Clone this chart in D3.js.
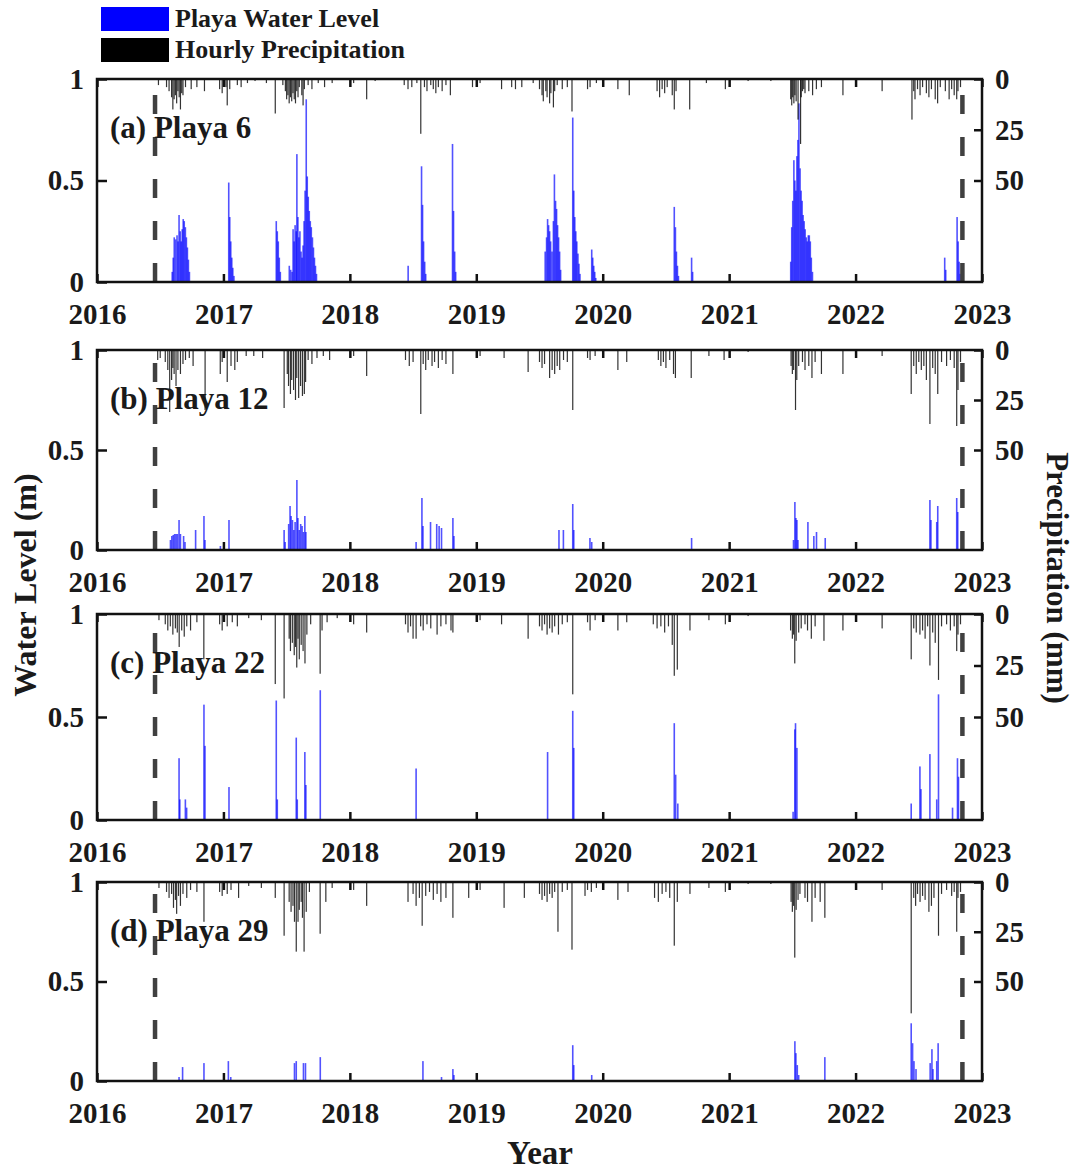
<!DOCTYPE html>
<html><head><meta charset="utf-8">
<script src="https://cdn.jsdelivr.net/npm/d3@7"></script>
<style>
body{margin:0;background:#fff}
text{font-family:"Liberation Serif","Times New Roman",serif;font-weight:bold;fill:#1a1a1a}
</style>
</head><body><svg id="c" width="1078" height="1171"></svg>
<script>
// ---------------- DATA ----------------
const years = [2016, 2017, 2018, 2019, 2020, 2021, 2022, 2023];
const levelTicks = [0, 0.5, 1];
const levelTickLabels = ["0", "0.5", "1"];
const precipTicks = [0, 25, 50];
const panelLabels = ["(a) Playa 6", "(b) Playa 12", "(c) Playa 22", "(d) Playa 29"];
const legendLabels = ["Playa Water Level", "Hourly Precipitation"];
const studyPeriod = [2016.459, 2022.845];

// water level (m): [decimal year, level]
const wl6 = [
[2016.595,0.05],[2016.603,0.12],[2016.611,0.22],[2016.622,0.21],[2016.633,0.23],[2016.641,0.2],[2016.649,0.33],[2016.658,0.25],[2016.666,0.2],[2016.674,0.26],[2016.682,0.31],[2016.690,0.3],[2016.699,0.27],[2016.707,0.22],[2016.715,0.17],[2016.723,0.11],[2016.731,0.05],
[2017.042,0.49],[2017.050,0.32],[2017.058,0.2],[2017.066,0.12],[2017.074,0.07],[2017.083,0.03],
[2017.418,0.30],[2017.426,0.25],[2017.434,0.2],[2017.442,0.12],[2017.450,0.05],
[2017.521,0.08],[2017.532,0.06],[2017.543,0.05],[2017.551,0.26],[2017.559,0.2],[2017.567,0.28],[2017.576,0.25],[2017.581,0.63],[2017.589,0.32],[2017.597,0.22],[2017.605,0.25],[2017.614,0.15],[2017.622,0.12],[2017.630,0.18],[2017.638,0.3],[2017.646,0.45],[2017.655,0.9],[2017.663,0.52],[2017.671,0.42],[2017.679,0.35],[2017.687,0.3],[2017.695,0.27],[2017.704,0.22],[2017.712,0.17],[2017.720,0.12],[2017.728,0.08],[2017.736,0.04],
[2018.461,0.08],
[2018.567,0.57],[2018.575,0.38],[2018.583,0.2],[2018.592,0.1],[2018.600,0.04],
[2018.812,0.68],[2018.820,0.35],[2018.829,0.15],[2018.837,0.05],
[2019.545,0.15],[2019.556,0.22],[2019.564,0.31],[2019.572,0.28],[2019.580,0.25],[2019.588,0.2],[2019.599,0.15],[2019.610,0.3],[2019.618,0.53],[2019.627,0.4],[2019.635,0.36],[2019.643,0.28],[2019.651,0.22],[2019.659,0.15],[2019.667,0.06],
[2019.763,0.81],[2019.771,0.45],[2019.779,0.32],[2019.787,0.25],[2019.795,0.2],[2019.804,0.14],[2019.812,0.09],[2019.820,0.04],
[2019.913,0.16],[2019.921,0.12],[2019.929,0.08],[2019.937,0.05],[2019.945,0.02],
[2020.566,0.37],[2020.575,0.27],[2020.583,0.15],[2020.591,0.08],[2020.599,0.03],
[2020.703,0.12],[2020.711,0.05],
[2021.487,0.1],[2021.495,0.27],[2021.503,0.4],[2021.512,0.6],[2021.520,0.5],[2021.528,0.45],[2021.536,0.62],[2021.544,0.7],[2021.552,0.88],[2021.561,0.56],[2021.569,0.45],[2021.577,0.4],[2021.585,0.33],[2021.593,0.3],[2021.601,0.26],[2021.610,0.22],[2021.618,0.2],[2021.626,0.23],[2021.634,0.23],[2021.642,0.2],[2021.650,0.12],[2021.659,0.05],
[2022.705,0.12],[2022.713,0.06],
[2022.803,0.32],[2022.811,0.2],[2022.819,0.1],[2022.827,0.04]
];
const wl12 = [
[2016.581,0.05],[2016.592,0.07],[2016.603,0.075],[2016.614,0.08],[2016.625,0.08],[2016.636,0.08],[2016.649,0.15],[2016.660,0.08],[2016.685,0.07],[2016.696,0.04],
[2016.780,0.1],[2016.846,0.17],[2016.854,0.05],[2016.976,0.02],[2017.044,0.15],
[2017.480,0.1],[2017.488,0.04],
[2017.516,0.13],[2017.527,0.22],[2017.535,0.17],[2017.546,0.15],[2017.557,0.1],[2017.567,0.14],[2017.581,0.35],[2017.589,0.16],[2017.600,0.1],[2017.611,0.13],[2017.622,0.12],[2017.633,0.09],[2017.644,0.17],[2017.652,0.09],
[2018.524,0.04],[2018.570,0.26],[2018.578,0.12],[2018.638,0.14],[2018.687,0.13],[2018.706,0.12],[2018.725,0.11],[2018.815,0.16],[2018.823,0.07],
[2019.654,0.1],[2019.689,0.1],[2019.763,0.23],[2019.771,0.1],[2019.899,0.06],[2019.913,0.04],
[2020.703,0.06],
[2021.509,0.05],[2021.520,0.24],[2021.528,0.16],[2021.536,0.15],[2021.544,0.05],[2021.623,0.14],[2021.670,0.07],[2021.691,0.09],[2021.760,0.06],
[2022.588,0.25],[2022.596,0.15],[2022.642,0.14],[2022.650,0.22],[2022.800,0.26],[2022.808,0.19]
];
const wl22 = [
[2016.649,0.3],[2016.655,0.1],[2016.699,0.1],[2016.709,0.06],
[2016.846,0.56],[2016.854,0.36],[2017.044,0.16],
[2017.418,0.58],[2017.426,0.1],[2017.576,0.4],[2017.584,0.1],[2017.644,0.33],[2017.652,0.17],[2017.766,0.63],
[2018.524,0.25],
[2019.564,0.33],[2019.763,0.53],[2019.771,0.35],
[2020.566,0.47],[2020.577,0.22],[2020.594,0.08],
[2021.506,0.04],[2021.520,0.44],[2021.525,0.47],[2021.536,0.35],
[2022.440,0.08],[2022.509,0.26],[2022.517,0.15],[2022.588,0.32],[2022.642,0.1],[2022.656,0.61],[2022.767,0.06],[2022.806,0.3],[2022.814,0.21]
];
const wl29 = [
[2016.649,0.02],[2016.677,0.07],[2016.846,0.09],[2017.039,0.1],[2017.058,0.02],
[2017.562,0.09],[2017.576,0.1],[2017.633,0.09],[2017.649,0.09],[2017.766,0.12],
[2018.578,0.1],[2018.725,0.02],[2018.815,0.06],[2018.823,0.03],
[2019.763,0.18],[2019.771,0.08],[2019.913,0.03],
[2021.520,0.2],[2021.528,0.14],[2021.539,0.08],[2021.550,0.03],[2021.757,0.12],
[2022.440,0.29],[2022.451,0.19],[2022.462,0.1],[2022.478,0.06],
[2022.590,0.09],[2022.604,0.16],[2022.612,0.06],[2022.642,0.1],[2022.653,0.19]
];

// hourly precipitation (mm): [decimal year, mm]
const pr6 = [
[2016.486,3],[2016.55,4],[2016.57,6],[2016.59,9],[2016.60,15],[2016.61,10],[2016.62,8],[2016.63,12],[2016.64,6],[2016.65,9],[2016.66,15],[2016.67,7],[2016.68,8],[2016.70,4],[2016.745,5],[2016.79,4],[2016.85,6],
[2016.97,5],[2016.99,7],[2017.02,4],[2017.03,13],[2017.05,5],[2017.11,3],[2017.14,4],[2017.19,2],[2017.25,1],[2017.34,2],
[2017.41,17],[2017.47,3],[2017.49,6],[2017.50,10],[2017.51,8],[2017.52,12],[2017.53,9],[2017.54,11],[2017.55,7],[2017.56,10],[2017.57,12],[2017.58,6],[2017.59,9],[2017.60,4],[2017.62,8],[2017.63,13],[2017.64,5],
[2017.67,3],[2017.70,5],[2017.75,2],[2017.80,4],[2017.86,2],[2018.03,2],[2018.133,10],[2018.2,1],
[2018.43,3],[2018.46,5],[2018.49,4],[2018.53,2],[2018.561,27],[2018.59,4],[2018.61,6],[2018.64,3],[2018.66,5],[2018.68,7],[2018.70,4],[2018.73,6],[2018.76,3],[2018.795,8],
[2018.97,4],[2019.03,2],[2019.2,5],[2019.28,4],[2019.31,5],[2019.36,4],[2019.45,2],
[2019.50,5],[2019.52,8],[2019.53,11],[2019.55,6],[2019.56,9],[2019.58,12],[2019.59,7],[2019.61,14],[2019.62,6],[2019.64,3],[2019.68,5],[2019.72,4],[2019.757,16],
[2019.88,5],[2019.90,4],[2019.95,2],[2020.12,5],[2020.21,8],
[2020.43,6],[2020.45,9],[2020.47,5],[2020.49,7],[2020.51,4],[2020.55,8],[2020.566,15],[2020.58,6],[2020.688,15],
[2020.82,2],[2020.97,5],[2021.15,1],[2021.33,1],
[2021.487,10],[2021.495,13],[2021.503,9],[2021.512,12],[2021.52,8],[2021.53,11],[2021.545,20],[2021.565,32],[2021.57,9],[2021.58,6],[2021.59,5],[2021.60,7],[2021.63,6],[2021.66,8],[2021.69,5],[2021.73,4],
[2021.90,8],[2022.21,6],
[2022.446,20],[2022.46,6],[2022.47,10],[2022.49,5],[2022.51,8],[2022.53,4],[2022.56,7],[2022.58,9],[2022.60,5],[2022.63,10],[2022.649,12],[2022.67,4],[2022.71,6],[2022.74,10],[2022.76,5],[2022.78,8],[2022.80,10],[2022.81,6],[2022.83,4]
];
const pr12 = [
[2016.48,5],[2016.50,4],[2016.54,6],[2016.56,10],[2016.575,31],[2016.59,15],[2016.60,9],[2016.61,12],[2016.625,18],[2016.64,10],[2016.66,12],[2016.68,7],[2016.70,5],[2016.73,4],[2016.76,8],[2016.855,30],
[2016.975,12],[2016.99,6],[2017.03,16],[2017.06,8],[2017.09,10],[2017.11,6],[2017.18,3],[2017.24,3],[2017.31,4],
[2017.48,29],[2017.505,12],[2017.515,18],[2017.53,22],[2017.54,15],[2017.555,20],[2017.57,25],[2017.58,14],[2017.595,24],[2017.61,18],[2017.625,23],[2017.64,22],[2017.65,16],[2017.67,5],[2017.70,7],[2017.74,4],[2017.79,3],[2017.84,5],
[2018.03,3],[2018.133,13],
[2018.44,5],[2018.47,8],[2018.50,6],[2018.561,32],[2018.58,7],[2018.60,10],[2018.62,5],[2018.65,8],[2018.67,6],[2018.70,9],[2018.73,5],[2018.76,7],[2018.815,12],
[2019.03,3],[2019.22,4],[2019.41,11],
[2019.50,6],[2019.52,9],[2019.54,7],[2019.58,14],[2019.60,10],[2019.62,12],[2019.64,8],[2019.66,10],[2019.69,5],[2019.72,6],[2019.763,30],
[2019.88,4],[2019.90,5],[2019.94,3],[2020.12,10],[2020.19,6],
[2020.44,5],[2020.46,8],[2020.48,6],[2020.50,9],[2020.53,5],[2020.56,12],[2020.575,14],[2020.70,14],
[2020.84,3],[2020.96,5],[2021.15,1],
[2021.49,8],[2021.50,12],[2021.51,10],[2021.525,30],[2021.535,15],[2021.55,8],[2021.58,6],[2021.60,10],[2021.63,8],[2021.655,14],[2021.68,6],[2021.73,12],
[2021.90,12],[2022.21,3],
[2022.44,22],[2022.46,8],[2022.48,12],[2022.50,6],[2022.52,10],[2022.54,8],[2022.56,15],[2022.588,37],[2022.61,9],[2022.63,12],[2022.65,22],[2022.68,6],[2022.72,8],[2022.75,5],[2022.78,9],[2022.80,38],[2022.81,20],[2022.83,6]
];
const pr22 = [
[2016.49,3],[2016.54,5],[2016.56,8],[2016.58,6],[2016.60,10],[2016.62,7],[2016.635,9],[2016.65,16],[2016.67,8],[2016.69,11],[2016.71,6],[2016.74,8],[2016.79,4],[2016.845,22],
[2016.97,5],[2016.99,8],[2017.03,6],[2017.07,4],[2017.11,6],[2017.20,2],[2017.30,3],
[2017.41,34],[2017.48,41],[2017.52,12],[2017.53,18],[2017.545,14],[2017.56,20],[2017.57,16],[2017.58,26],[2017.59,12],[2017.60,22],[2017.615,15],[2017.63,18],[2017.645,24],[2017.66,10],[2017.69,5],[2017.765,29],[2017.78,8],[2017.82,4],[2017.9,2],
[2018.03,5],[2018.133,9],
[2018.44,5],[2018.46,9],[2018.48,6],[2018.50,12],[2018.524,12],[2018.56,6],[2018.58,8],[2018.61,5],[2018.64,7],[2018.69,10],[2018.72,6],[2018.76,5],[2018.80,8],[2018.815,9],
[2019.03,3],[2019.2,5],[2019.41,12],
[2019.50,6],[2019.52,8],[2019.54,5],[2019.56,10],[2019.58,7],[2019.60,9],[2019.62,6],[2019.65,10],[2019.68,5],[2019.72,4],[2019.763,39],
[2019.88,4],[2019.90,8],[2019.94,3],[2020.12,8],[2020.19,4],
[2020.40,5],[2020.43,7],[2020.46,6],[2020.49,9],[2020.52,6],[2020.55,15],[2020.566,30],[2020.59,27],[2020.69,8],
[2020.84,3],[2020.97,5],[2021.15,1],
[2021.486,8],[2021.50,12],[2021.51,10],[2021.519,24],[2021.53,13],[2021.55,9],[2021.57,7],[2021.60,5],[2021.62,8],[2021.65,12],[2021.68,6],[2021.75,13],
[2021.90,8],[2022.21,7],
[2022.44,22],[2022.46,7],[2022.48,9],[2022.509,10],[2022.53,8],[2022.55,12],[2022.57,6],[2022.588,25],[2022.61,9],[2022.63,14],[2022.656,32],[2022.68,6],[2022.72,5],[2022.75,8],[2022.78,6],[2022.80,18],[2022.81,10],[2022.83,5]
];
const pr29 = [
[2016.49,3],[2016.55,5],[2016.57,8],[2016.59,6],[2016.605,13],[2016.62,9],[2016.63,16],[2016.645,7],[2016.66,12],[2016.68,6],[2016.71,8],[2016.74,4],[2016.79,5],[2016.846,20],
[2016.97,5],[2016.99,7],[2017.03,6],[2017.06,4],[2017.12,8],[2017.2,2],[2017.3,3],
[2017.41,8],[2017.48,27],[2017.52,10],[2017.535,15],[2017.55,12],[2017.562,20],[2017.576,35],[2017.59,20],[2017.60,14],[2017.615,10],[2017.625,18],[2017.638,35],[2017.655,15],[2017.68,5],[2017.765,26],[2017.81,10],[2017.86,3],
[2018.03,4],[2018.133,12],
[2018.46,10],[2018.50,6],[2018.524,12],[2018.55,8],[2018.572,22],[2018.60,7],[2018.63,5],[2018.66,9],[2018.69,6],[2018.72,10],[2018.76,8],[2018.815,18],
[2018.94,8],[2019.03,4],[2019.22,13],[2019.38,8],
[2019.50,6],[2019.52,9],[2019.54,7],[2019.56,10],[2019.58,6],[2019.60,8],[2019.62,5],[2019.646,25],[2019.68,5],[2019.72,4],[2019.757,34],
[2019.86,7],[2019.88,4],[2019.91,5],[2019.95,3],[2020.12,9],[2020.20,5],
[2020.41,8],[2020.44,10],[2020.47,6],[2020.50,5],[2020.53,8],[2020.566,32],[2020.59,10],[2020.69,6],
[2020.84,3],[2020.97,5],[2021.15,1],[2021.33,1],
[2021.49,10],[2021.50,15],[2021.51,12],[2021.519,38],[2021.53,14],[2021.545,9],[2021.56,6],[2021.60,8],[2021.62,10],[2021.655,20],[2021.68,8],[2021.72,10],[2021.757,18],
[2022.21,4],
[2022.44,66],[2022.46,8],[2022.475,12],[2022.49,6],[2022.51,10],[2022.53,7],[2022.55,9],[2022.58,15],[2022.60,12],[2022.62,8],[2022.656,27],[2022.68,6],[2022.72,4],[2022.76,7],[2022.78,5],[2022.80,25],[2022.81,8],[2022.83,5]
];

const levelSeries = [wl6, wl12, wl22, wl29];
const precipSeries = [pr6, pr12, pr22, pr29];

// ---------------- DRAW ----------------
const svg = d3.select("#c");
const X0 = 97, X1 = 982;
const panelBox = [[79, 282], [350, 550], [614, 820], [882, 1081]];
const x = d3.scaleLinear().domain([2016, 2023]).range([X0, X1]);
const FS = 29;

panelBox.forEach(([top, bot], i) => {
  const yL = d3.scaleLinear().domain([0, 1]).range([bot, top]);
  const yR = d3.scaleLinear().domain([0, 100]).range([top, bot]);
  const g = svg.append("g");
  const cid = "clip" + i;
  svg.append("clipPath").attr("id", cid).append("rect")
    .attr("x", X0).attr("y", top).attr("width", X1 - X0).attr("height", bot - top);
  const plot = g.append("g").attr("clip-path", `url(#${cid})`);

  // water level bars
  plot.append("g").selectAll("rect").data(levelSeries[i]).join("rect")
    .attr("x", d => x(d[0]) - 0.8).attr("width", 1.6)
    .attr("y", d => yL(d[1])).attr("height", d => yL(0) - yL(d[1]))
    .attr("fill", "#0000ff").attr("fill-opacity", 0.68);

  // precipitation bars hanging from top
  plot.append("g").selectAll("rect").data(precipSeries[i]).join("rect")
    .attr("x", d => x(d[0]) - 0.6).attr("width", 1.2)
    .attr("y", yR(0)).attr("height", d => yR(d[1]) - yR(0))
    .attr("fill", "#000").attr("fill-opacity", 0.8);

  // study-period dashed lines (drawn from bottom upward)
  plot.append("g").selectAll("line").data(studyPeriod).join("line")
    .attr("x1", d => x(d)).attr("x2", d => x(d))
    .attr("y1", bot).attr("y2", top)
    .attr("stroke", "#404040").attr("stroke-width", 4.5)
    .attr("stroke-dasharray", "19,23");

  // axes
  const ax = (a, cls) => {
    const s = g.append("g").attr("class", cls).call(a);
    s.select(".domain").remove();
    s.selectAll("line").attr("stroke", "#111").attr("stroke-width", 2.5);
    s.selectAll("text").attr("font-size", FS).attr("font-family", '"Liberation Serif",serif')
      .attr("font-weight", "bold").attr("fill", "#1a1a1a");
    return s;
  };
  ax(d3.axisLeft(yL).tickValues(levelTicks).tickFormat((d, k) => levelTickLabels[k]).tickSize(-10).tickPadding(13), "yl")
    .attr("transform", `translate(${X0},0)`);
  ax(d3.axisRight(yR).tickValues(precipTicks).tickFormat(d3.format("d")).tickSize(-8).tickPadding(13), "yr")
    .attr("transform", `translate(${X1},0)`);
  ax(d3.axisBottom(x).tickValues(years).tickFormat(d3.format("d")).tickSize(-8).tickPadding(21), "xb")
    .attr("transform", `translate(0,${bot})`);
  ax(d3.axisTop(x).tickValues(years).tickFormat("").tickSize(-8), "xt")
    .attr("transform", `translate(0,${top})`);

  // frame
  g.append("rect").attr("x", X0).attr("y", top).attr("width", X1 - X0).attr("height", bot - top)
    .attr("fill", "none").attr("stroke", "#111").attr("stroke-width", 2.5);

  // panel label
  g.append("text").attr("x", 110).attr("y", top + 59).attr("font-size", 31).text(panelLabels[i]);
});

// axis titles
svg.append("text").attr("transform", "translate(36,585) rotate(-90)")
  .attr("text-anchor", "middle").attr("font-size", 32).text("Water Level (m)");
svg.append("text").attr("transform", "translate(1047,578) rotate(90)")
  .attr("text-anchor", "middle").attr("font-size", 31).text("Precipitation (mm)");
svg.append("text").attr("x", 540).attr("y", 1164).attr("text-anchor", "middle")
  .attr("font-size", 33).text("Year");

// legend
const legColors = ["#0000ff", "#000000"];
const leg = svg.append("g").selectAll("g").data(legendLabels).join("g")
  .attr("transform", (d, k) => `translate(101,${7 + k * 31})`);
leg.append("rect").attr("width", 68).attr("height", 24).attr("fill", (d, k) => legColors[k]);
leg.append("text").attr("x", 74).attr("y", 20).attr("font-size", 26).text(d => d);
</script></body></html>
